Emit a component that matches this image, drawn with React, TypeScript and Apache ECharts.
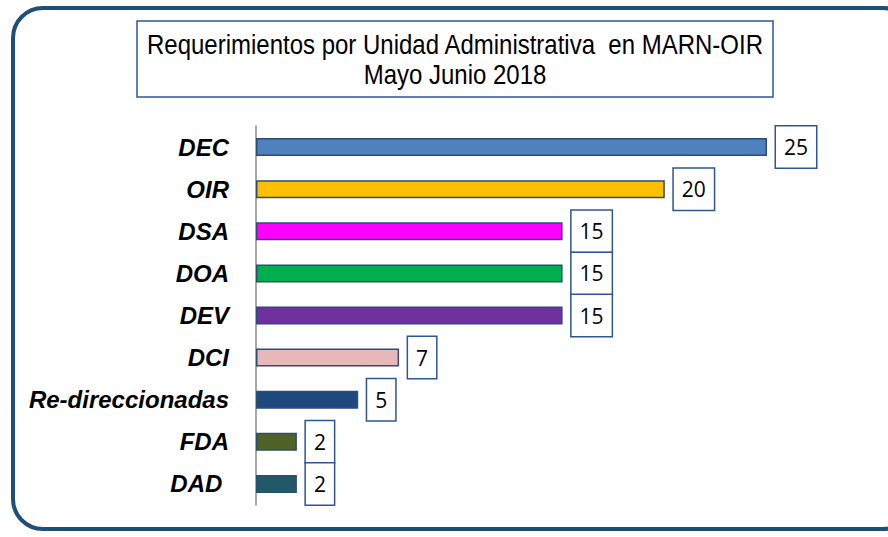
import React, { useEffect, useRef } from "react";
import * as echarts from "echarts";

const categories = ["DEC", "OIR", "DSA", "DOA", "DEV", "DCI", "Re-direccionadas", "FDA", "DAD "];
const values = [25, 20, 15, 15, 15, 7, 5, 2, 2];
const barColors = ["#4F81BD", "#FFC000", "#FF00FF", "#00B050", "#7030A0", "#E6B9B8", "#1F497D", "#4F6228", "#215968"];
const titleLines = ["Requerimientos por Unidad Administrativa  en MARN-OIR", "Mayo Junio 2018"];

export default function App() {
  const ref = useRef<HTMLDivElement>(null);
  useEffect(() => {
    if (!ref.current) return;
    const chart = echarts.init(ref.current, null, { renderer: "svg" });
    chart.setOption({
      animation: false,
      backgroundColor: "#ffffff",
      grid: { left: 256, right: 121, top: 126, bottom: 32, containLabel: false },
      xAxis: { type: "value", min: 0, max: 25, show: false },
      yAxis: {
        type: "category",
        data: categories,
        inverse: true,
        axisLine: { show: true, lineStyle: { color: "#8c8c8c", width: 1.5 } },
        axisTick: { show: false },
        axisLabel: {
          margin: 27,
          color: "#000",
          fontFamily: "Liberation Sans",
          fontSize: 24,
          fontWeight: "bold",
          fontStyle: "italic",
        },
        splitLine: { show: false },
      },
      series: [
        {
          type: "bar",
          barWidth: 18,
          data: values.map((v, i) => ({
            value: v,
            itemStyle: { color: barColors[i], borderColor: "#2C4D75", borderWidth: 1.5 },
          })),
          label: {
            show: true,
            position: "right",
            distance: 9,
            color: "#000",
            fontFamily: "Open Sans",
            fontSize: 21,
            lineHeight: 23,
            backgroundColor: "#fff",
            borderColor: "#2F5597",
            borderWidth: 1.5,
            padding: [9, 8, 9, 8],
          },
        },
      ],
      graphic: [
        {
          type: "rect",
          shape: { x: 13, y: 8, width: 900, height: 521, r: 30 },
          style: { fill: "none", stroke: "#1F4E79", lineWidth: 4 },
          silent: true,
        },
        {
          type: "rect",
          shape: { x: 137, y: 21, width: 636, height: 76 },
          style: { fill: "#fff", stroke: "#2F5597", lineWidth: 1.5 },
          silent: true,
        },
        {
          type: "text",
          x: 455,
          y: 45,
          scaleY: 1.12,
          style: {
            text: titleLines[0],
            fill: "#000",
            font: "24px 'Liberation Sans'",
            textAlign: "center",
            textVerticalAlign: "middle",
          },
        },
        {
          type: "text",
          x: 455,
          y: 75,
          scaleY: 1.12,
          style: {
            text: titleLines[1],
            fill: "#000",
            font: "24px 'Liberation Sans'",
            textAlign: "center",
            textVerticalAlign: "middle",
          },
        },
      ],
    });
    return () => chart.dispose();
  }, []);
  return <div ref={ref} style={{ position: "absolute", left: 0, top: 0, width: 888, height: 537 }} />;
}
